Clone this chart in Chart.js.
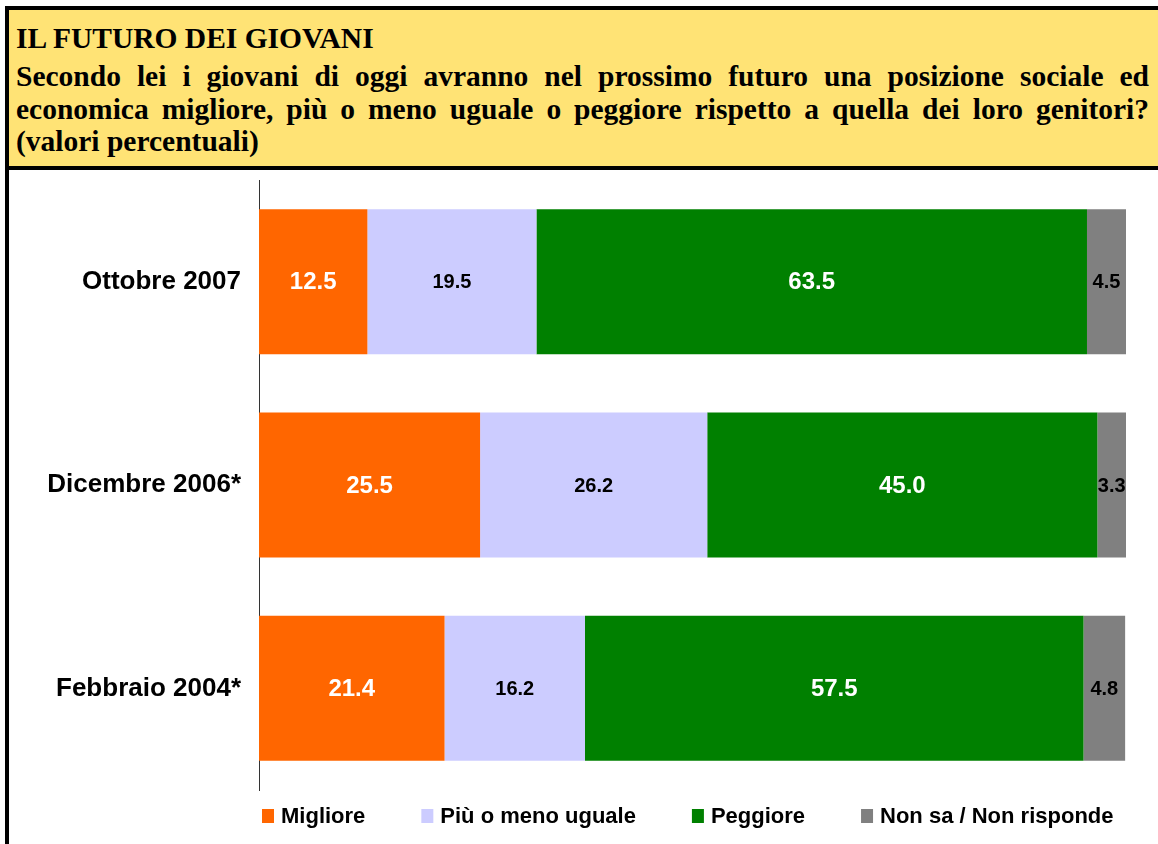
<!DOCTYPE html>
<html>
<head>
<meta charset="utf-8">
<script src="https://cdn.jsdelivr.net/npm/chart.js@4"></script>
<style>
  html, body { margin: 0; padding: 0; background: #fff; overflow: hidden; }
  body { width: 1158px; height: 844px; position: relative; }
  #head {
    position: absolute; left: 5px; top: 6px; width: 1200px; height: 156px;
    background: #FFE375; border: 4px solid #000; border-right: none;
    font-family: "Liberation Serif", "Times New Roman", serif; font-weight: bold;
    font-size: 29.5px; line-height: 32px; color: #000;
  }
  #head .ln { position: absolute; left: 7px; width: 1133px; white-space: nowrap; }
  #head .j { text-align: justify; text-align-last: justify; white-space: normal; }
  #box {
    position: absolute; left: 5px; top: 170px; width: 1153px; height: 674px;
    border-left: 4px solid #000;
  }
  #cv { position: absolute; left: 0; top: 0; }
</style>
</head>
<body>
<div id="head">
  <div class="ln" style="top:12px">IL FUTURO DEI GIOVANI</div>
  <div class="ln j" style="top:50px">Secondo lei i giovani di oggi avranno nel prossimo futuro una posizione sociale ed</div>
  <div class="ln j" style="top:83px">economica migliore, più o meno uguale o peggiore rispetto a quella dei loro genitori?</div>
  <div class="ln" style="top:115px">(valori percentuali)</div>
</div>
<div id="box"><canvas id="cv" width="1149" height="674"></canvas></div>
<script>
// dati (valori percentuali)
const periodi = ["Ottobre 2007", "Dicembre 2006*", "Febbraio 2004*"];
const serie = ["Migliore", "Più o meno uguale", "Peggiore", "Non sa / Non risponde"];
const migliore = [12.5, 25.5, 21.4];
const uguale = [19.5, 26.2, 16.2];
const peggiore = [63.5, 45.0, 57.5];
const nonSa = [4.5, 3.3, 4.8];

const COL = {
  orange: "#FF6600",
  lavender: "#CCCCFF",
  green: "#008000",
  grey: "#808080"
};
const FONT = '"Liberation Sans", Arial, sans-serif';

// stile etichette dei valori per serie
const labelStyle = [
  { color: "#fff", size: 24 },
  { color: "#000", size: 20 },
  { color: "#fff", size: 24 },
  { color: "#000", size: 20 }
];

const valueLabels = {
  id: "valueLabels",
  afterDatasetsDraw(chart){
    const ctx = chart.ctx;
    ctx.save();
    ctx.textAlign = "center";
    ctx.textBaseline = "middle";
    chart.data.datasets.forEach((ds, i) => {
      const st = labelStyle[i];
      ctx.fillStyle = st.color;
      ctx.font = "bold " + st.size + "px " + FONT;
      chart.getDatasetMeta(i).data.forEach((bar, j) => {
        const cx = (bar.x + bar.base) / 2;
        ctx.fillText(ds.data[j].toFixed(1), cx, bar.y + 1);
      });
    });
    ctx.restore();
  }
};

// legenda disegnata a mano (spaziatura come l'originale)
const bottomLegend = {
  id: "bottomLegend",
  afterDraw(chart){
    const ctx = chart.ctx, area = chart.chartArea;
    const gap = 56, boxW = 12, boxH = 14, tgap = 7;
    ctx.save();
    ctx.font = "bold 22px " + FONT;
    ctx.textBaseline = "middle";
    ctx.textAlign = "left";
    const widths = chart.data.datasets.map(d => boxW + tgap + ctx.measureText(d.label).width);
    let x = area.left + 3;
    const y = area.bottom + 26;
    chart.data.datasets.forEach((d, i) => {
      ctx.fillStyle = d.backgroundColor;
      ctx.fillRect(x, y - boxH / 2, boxW, boxH);
      ctx.fillStyle = "#000";
      ctx.fillText(d.label, x + boxW + tgap, y + 1);
      x += widths[i] + gap;
    });
    ctx.restore();
  }
};

new Chart(document.getElementById("cv"), {
  type: "bar",
  data: {
    labels: periodi,
    datasets: [
      { label: serie[0], data: migliore, backgroundColor: COL.orange },
      { label: serie[1], data: uguale, backgroundColor: COL.lavender },
      { label: serie[2], data: peggiore, backgroundColor: COL.green },
      { label: serie[3], data: nonSa, backgroundColor: COL.grey }
    ]
  },
  options: {
    indexAxis: "y",
    responsive: false,
    animation: false,
    layout: { padding: { top: 10, right: 32, bottom: 54, left: 0 } },
    datasets: { bar: { categoryPercentage: 1, barPercentage: 0.713, borderWidth: 0 } },
    plugins: {
      legend: { display: false },
      tooltip: { enabled: false }
    },
    scales: {
      x: { stacked: true, min: 0, max: 100, display: false },
      y: {
        stacked: true,
        grid: { display: false, drawTicks: false },
        border: { display: true, color: "#333", width: 1 },
        ticks: { color: "#000", font: { family: FONT, size: 26, weight: "bold" }, padding: 18 },
        afterFit(s){ s.width = 250; s.paddingTop = 0; s.paddingBottom = 0; }
      }
    }
  },
  plugins: [valueLabels, bottomLegend]
});
</script>
</body>
</html>
